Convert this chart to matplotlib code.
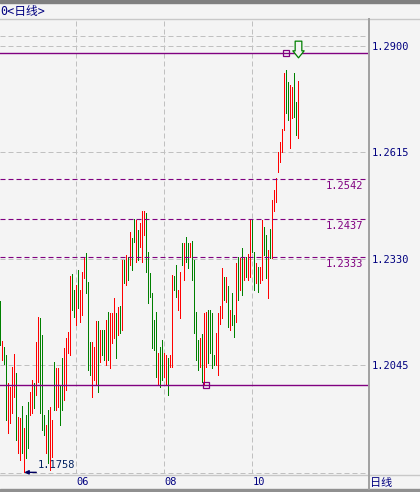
import numpy as np
import matplotlib
matplotlib.use("Agg")
import matplotlib.pyplot as plt
from matplotlib.path import Path
from matplotlib.lines import Line2D
from matplotlib.patches import Rectangle
from matplotlib.transforms import offset_copy

plt.rcParams['font.family'] = ['DejaVu Sans Mono', 'Noto Sans CJK SC']

# daily bars, high / low
highs = [
    1.2217, 1.2110, 1.2093, 1.2072, 1.1997, 1.1986, 1.2040, 1.2075, 1.2024, 1.1906,
    1.1903, 1.1936, 1.1877, 1.1911, 1.1946, 1.1973, 1.2005, 1.1997, 1.2107, 1.2174,
    1.2171, 1.2126, 1.1911, 1.1885, 1.1925, 1.1933, 1.1898, 1.2053, 1.2037, 1.2037,
    1.1992, 1.2064, 1.2091, 1.2118, 1.2134, 1.2283, 1.2289, 1.2246, 1.2259, 1.2299,
    1.2246, 1.2294, 1.2332, 1.2345, 1.2267, 1.2107, 1.2107, 1.2093,
    1.2163, 1.2163, 1.2139, 1.2139, 1.2139, 1.2166, 1.2187, 1.2184, 1.2184, 1.2225,
    1.2184, 1.2201, 1.2203, 1.2326, 1.2326, 1.2340, 1.2334, 1.2401, 1.2385, 1.2436,
    1.2433, 1.2407, 1.2425, 1.2457, 1.2457, 1.2452, 1.2348, 1.2291, 1.2238, 1.2166,
    1.2187, 1.2077, 1.2093, 1.2112, 1.2077, 1.2072, 1.2064, 1.2072, 1.2286, 1.2283,
    1.2313, 1.2246, 1.2294, 1.2372, 1.2372,
    1.2388, 1.2372, 1.2372, 1.2377, 1.2326, 1.2187, 1.2112, 1.2118, 1.2128, 1.2184,
    1.2187, 1.2192, 1.2192, 1.2184, 1.2072, 1.2131, 1.2184, 1.2203, 1.2305, 1.2281,
    1.2281, 1.2257, 1.2192, 1.2238, 1.2179, 1.2318, 1.2334, 1.2332, 1.2358, 1.2334,
    1.2334, 1.2342, 1.2436, 1.2433, 1.2348, 1.2318, 1.2308, 1.2308, 1.2433, 1.2415,
    1.2393, 1.2353, 1.2409, 1.2487, 1.2514, 1.2546, 1.2615, 1.2642, 1.2677, 1.2827,
    1.2835, 1.2803, 1.2795, 1.2789, 1.2827, 1.2749, 1.2805,
]
lows = [
    1.2099, 1.2059, 1.2048, 1.1898, 1.1863, 1.1890, 1.1917, 1.1960, 1.1845, 1.1810,
    1.1791, 1.1810, 1.1758, 1.1796, 1.1823, 1.1911, 1.1917, 1.1930, 1.1965, 1.2000,
    1.1917, 1.1871, 1.1858, 1.1810, 1.1783, 1.1764, 1.1799, 1.1925, 1.1925, 1.1933,
    1.1885, 1.1925, 1.1952, 1.1978, 1.2077, 1.2072, 1.2192, 1.2174, 1.2152, 1.2198,
    1.2160, 1.2179, 1.2278, 1.2238, 1.2032, 1.2019, 1.1960, 1.2005,
    1.1994, 1.1973, 1.2053, 1.2072, 1.2059, 1.2045, 1.2059, 1.2037, 1.2104, 1.2118,
    1.2064, 1.2126, 1.2131, 1.2139, 1.2265, 1.2259, 1.2273, 1.2313, 1.2299, 1.2374,
    1.2321, 1.2326, 1.2361, 1.2321, 1.2393, 1.2294, 1.2211, 1.2227, 1.2091, 1.2085,
    1.2013, 1.1994, 1.1986, 1.2005, 1.2013, 1.1992, 1.1965, 1.2040, 1.2040, 1.2246,
    1.2227, 1.2192, 1.2171, 1.2313, 1.2273,
    1.2321, 1.2305, 1.2334, 1.2273, 1.2131, 1.2059, 1.2032, 1.2040, 1.2000, 1.1994,
    1.2040, 1.2051, 1.2077, 1.2037, 1.2045, 1.2045, 1.2019, 1.2155, 1.2171, 1.2219,
    1.2214, 1.2147, 1.2139, 1.2152, 1.2120, 1.2160, 1.2219, 1.2246, 1.2233, 1.2273,
    1.2281, 1.2273, 1.2281, 1.2348, 1.2246, 1.2265, 1.2241, 1.2265, 1.2273, 1.2340,
    1.2278, 1.2225, 1.2332, 1.2332, 1.2457, 1.2481, 1.2562, 1.2589, 1.2615, 1.2674,
    1.2720, 1.2701, 1.2626, 1.2706, 1.2709, 1.2661, 1.2653,
]
# R = up bar (red), G = down bar (green)
direction = ("GRGGRRRRGR" "RGRGGRRGRR" "GGGRGRRGRR" "GGRRRRGGRG" "RRRGGGRR"
             "RGRGGRGRRR" "GRGRGRGRGG" "RGRRRGGGGG" "GRGGRRGRRG" "GRRGR"
             "GGRGGGGRGR" "RGGGGRRRRG" "RGRGGRGRGR" "GRRGGRGRRG" "GRGRRRRRRR"
             "GGRRGGR")

price_ticks = [1.2900, 1.2615, 1.2330, 1.2045]
edge_grid = [1.2926, 1.1757]
month_idx = [38, 82, 126]
month_labels = ["06", "08", "10"]
level_lines = [1.2542, 1.2437, 1.2333]
hi_line = 1.2879
lo_line = 1.1991
hi_idx = 143
lo_idx = 103
low_idx = 12
low_price = 1.1758

W, H = 420, 492
BG = '#F4F4F4'
NAVY = '#000080'
PURPLE = '#800080'

fig = plt.figure(figsize=(W / 100, H / 100), dpi=100, facecolor=BG)
ax = fig.add_axes([0, (H - 474) / H, 368 / W, (474 - 19) / H])
ax.set_facecolor(BG)

x = np.arange(len(highs))
colors = ['#FF0000' if c == 'R' else '#008000' for c in direction]
ax.vlines(x, lows, highs, colors=colors, linewidth=0.72, antialiased=False, zorder=3)

ax.set_xlim(-0.15, 183.85)
ax.set_ylim(1.17536, 1.29712)

dash = (0, (5, 3))
for p in price_ticks + edge_grid:
    ax.axhline(p, color='#C0C0C0', lw=0.72, ls=dash, zorder=1)
for m in month_idx:
    ax.axvline(m, color='#C0C0C0', lw=0.72, ls=dash, zorder=1)

# support / resistance lines
for lv in level_lines:
    ax.axhline(lv, color=PURPLE, lw=0.8, ls=(0, (4.5, 2.7)), zorder=4)
    ax.annotate(f"{lv:.4f}", xy=(1, lv), xycoords=('axes fraction', 'data'),
                xytext=(-5, -7), textcoords='offset pixels', ha='right', va='center',
                color=PURPLE, fontsize=7.5)
ax.axhline(hi_line, color=PURPLE, lw=1.0, zorder=4)
ax.axhline(lo_line, color=PURPLE, lw=1.0, zorder=4)
ax.plot([hi_idx, lo_idx], [hi_line, lo_line], ls='none', marker='s', ms=4.5,
        mfc='none', mec=PURPLE, mew=0.9, zorder=5)

# hollow down arrow above last bar
arrow = Path([(-0.2, 0.5), (0.2, 0.5), (0.2, -0.08), (0.34, -0.08), (0, -0.5),
              (-0.34, -0.08), (-0.2, -0.08), (-0.2, 0.5)],
             [Path.MOVETO] + [Path.LINETO] * 6 + [Path.CLOSEPOLY])
tr = offset_copy(ax.transData, fig=fig, x=0, y=4, units='dots')
ax.plot([len(highs) - 1], [hi_line], ls='none', marker=arrow, ms=12, mfc=BG,
        mec='#008000', mew=0.9, transform=tr, zorder=6, clip_on=False)

# lowest low marker
ax.annotate('', xy=(low_idx, low_price), xytext=(12, 0), textcoords='offset pixels',
            arrowprops=dict(arrowstyle='-|>', color='#000060', lw=1.0,
                            mutation_scale=6, shrinkA=0, shrinkB=0), zorder=4)
ax.annotate(f"{low_price:.4f}", xy=(low_idx, low_price), xytext=(13, 7),
            textcoords='offset pixels', ha='left', va='center', color='#002060',
            fontsize=7.5, zorder=2)

ax.yaxis.tick_right()
ax.set_yticks(price_ticks)
ax.set_yticklabels([f"{p:.4f}" for p in price_ticks])
ax.tick_params(axis='y', length=0, pad=3, labelsize=7.5, labelcolor=NAVY)
ax.set_xticks(month_idx)
ax.set_xticklabels(month_labels)
for lbl in ax.get_xticklabels():
    lbl.set_ha('left')
ax.tick_params(axis='x', length=0, pad=2.5, labelsize=7.5, labelcolor=NAVY)
for s in ax.spines.values():
    s.set_visible(False)

# window frame
fig.patches.append(Rectangle((0, 1 - 2.5 / H), 1, 2.5 / H, transform=fig.transFigure,
                             color='#808080', zorder=0))
fig.patches.append(Rectangle((0, 0), 1, 3 / H, transform=fig.transFigure,
                             color='#909090', zorder=0))
fig.lines.append(Line2D([0, 1], [1 - 19 / H, 1 - 19 / H], transform=fig.transFigure,
                        color='#C8C8C8', lw=1.0))
fig.lines.append(Line2D([0, 1], [1 - 474.5 / H, 1 - 474.5 / H], transform=fig.transFigure,
                        color='#C8C8C8', lw=1.0))
fig.lines.append(Line2D([368.5 / W, 368.5 / W], [3 / H, 1 - 19 / H], transform=fig.transFigure,
                        color='#A0A0A0', lw=1.4))

fig.text(0, 1 - 11 / H, "0<日线>", ha='left', va='center', color=NAVY, fontsize=8.5)
fig.text(370 / W, 1 - 483 / H, "日线", ha='left', va='center', color=NAVY, fontsize=8)

fig.savefig('out.png', dpi=100, facecolor=BG)
